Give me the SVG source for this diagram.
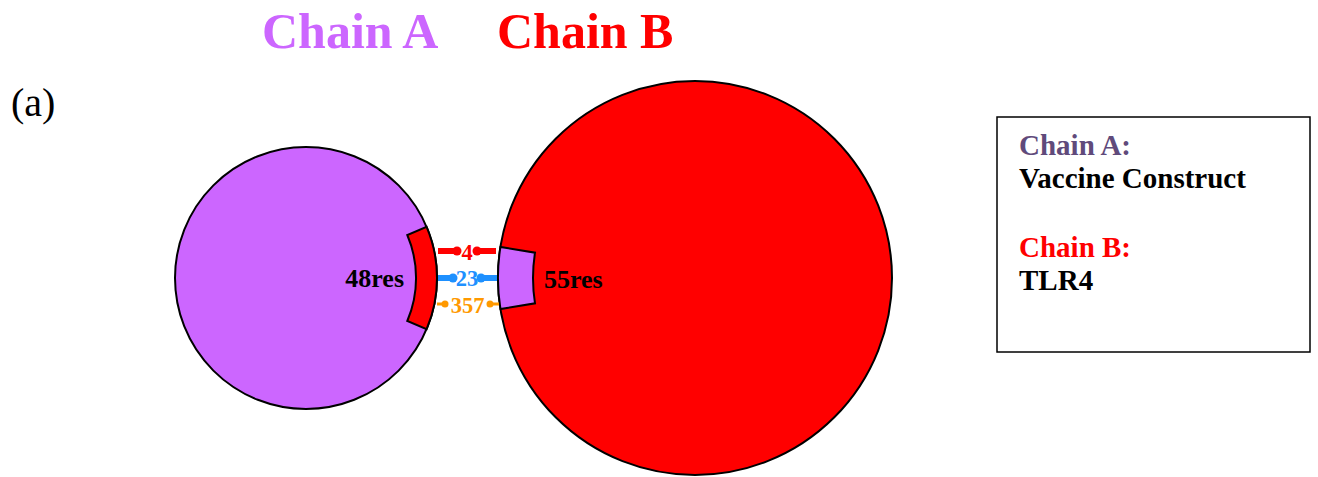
<svg xmlns="http://www.w3.org/2000/svg" width="1318" height="477" viewBox="0 0 1318 477">
<style>
.serif{font-family:"Liberation Serif","Times New Roman",serif}
.b{font-weight:bold}
.circ{stroke:#000;stroke-width:2}
.res{font-family:"Liberation Serif","Times New Roman",serif;font-weight:bold;font-size:26px;fill:#000}
.cl{font-family:"Liberation Serif","Times New Roman",serif;font-weight:bold;font-size:22.5px;text-anchor:middle}
.leg{font-family:"Liberation Serif","Times New Roman",serif;font-weight:bold;font-size:29px}
</style>
<rect width="1318" height="477" fill="#fff"/>
<g id="title">
<text class="serif b" x="262" y="48" font-size="50" fill="#CC66FF">Chain A</text>
<text class="serif b" x="497" y="48" font-size="50" fill="#FF0000">Chain B</text>
</g>
<text class="serif" x="11" y="116" font-size="40" fill="#000">(a)</text>
<g id="chainA">
<circle class="circ" cx="306" cy="278" r="131" fill="#CC66FF"/>
<path class="circ" fill="#FF0000" d="M426.6,226.8 A131,131 0 0 1 426.6,329.2 L407.3,321 A110,110 0 0 0 407.3,235 Z"/>
<text class="res" x="404" y="287" text-anchor="end">48res</text>
</g>
<g id="chainB">
<circle class="circ" cx="695" cy="278" r="197" fill="#FF0000"/>
<path class="circ" fill="#CC66FF" d="M500.4,247 A197,197 0 0 0 500.4,309 L535,303.3 A162,162 0 0 1 535,252.7 Z"/>
<text class="res" x="544" y="288">55res</text>
</g>
<g id="connectors">
<g stroke="#FF0000" fill="#FF0000">
<line x1="438" y1="251" x2="456" y2="251" stroke-width="6"/>
<circle cx="457" cy="251" r="4.5" stroke="none"/>
<line x1="478" y1="251" x2="496" y2="251" stroke-width="6"/>
<circle cx="477" cy="251" r="4.5" stroke="none"/>
</g>
<text class="cl" x="467" y="259.5" fill="#FF0000">4</text>
<g stroke="#1E90FF" fill="#1E90FF">
<line x1="438" y1="278" x2="452" y2="278" stroke-width="6"/>
<circle cx="453" cy="278" r="4.5" stroke="none"/>
<line x1="482" y1="278" x2="497" y2="278" stroke-width="6"/>
<circle cx="481" cy="278" r="4.5" stroke="none"/>
</g>
<text class="cl" x="467" y="286" fill="#1E90FF">23</text>
<g stroke="#FF9900" fill="#FF9900">
<line x1="437" y1="304" x2="445" y2="304" stroke-width="3"/>
<circle cx="445" cy="304" r="3.5" stroke="none"/>
<line x1="490" y1="304" x2="499" y2="304" stroke-width="3"/>
<circle cx="490" cy="304" r="3.5" stroke="none"/>
</g>
<text class="cl" x="467.5" y="312.5" fill="#FF9900">357</text>
</g>
<g id="legend">
<rect x="997" y="117" width="313" height="235" fill="#fff" stroke="#000" stroke-width="1.5"/>
<text class="leg" x="1019" y="155" fill="#604A7B">Chain A:</text>
<text class="leg" x="1019" y="188" fill="#000">Vaccine Construct</text>
<text class="leg" x="1019" y="257" fill="#FF0000">Chain B:</text>
<text class="leg" x="1019" y="290" fill="#000">TLR4</text>
</g>
</svg>
